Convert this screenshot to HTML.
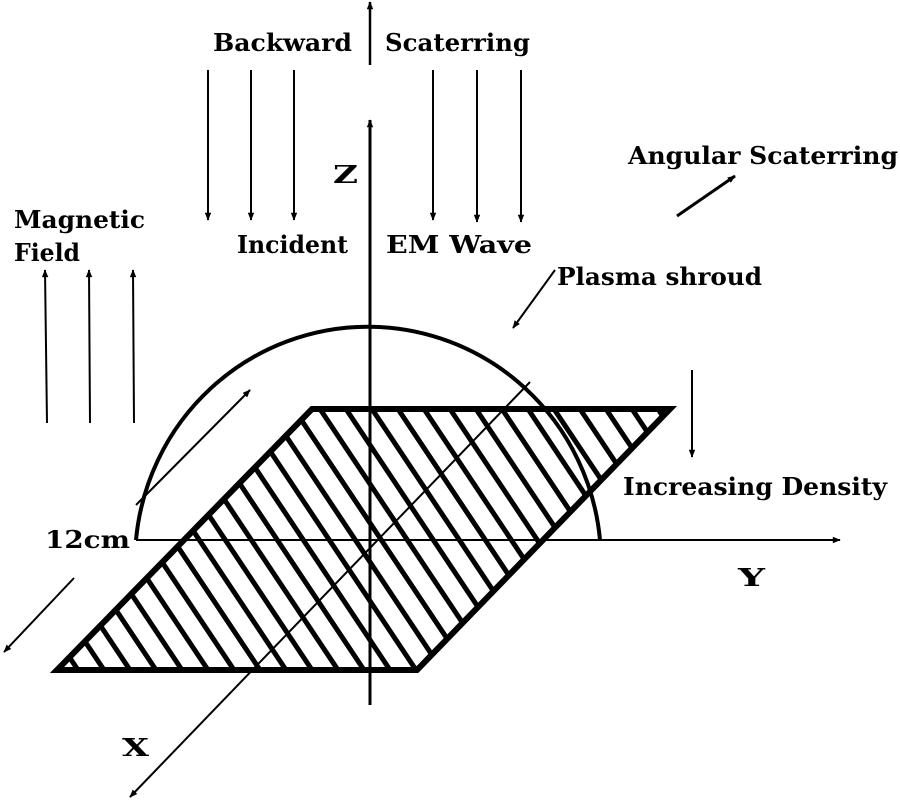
<!DOCTYPE html>
<html><head><meta charset="utf-8"><style>
html,body{margin:0;padding:0;background:#fff}
svg{display:block}
text{font-family:"DejaVu Serif","Liberation Serif",serif;font-size:24px;fill:#000;font-weight:bold}
</style></head><body>
<svg width="900" height="800" viewBox="0 0 900 800" xmlns="http://www.w3.org/2000/svg">
<defs>
<marker id="b" viewBox="0 0 10 10" refX="9" refY="5" markerWidth="16" markerHeight="8" orient="auto" markerUnits="userSpaceOnUse"><path d="M0,1 L10,5 L0,9 z"/></marker>
<clipPath id="pg"><polygon points="312,409 670,409 417,670 57,670"/></clipPath>
</defs>
<g stroke="#000" fill="none">
<g clip-path="url(#pg)" stroke-width="5">
<path d="M-200,409 l174,261 M-174,409 l174,261 M-148,409 l174,261 M-122,409 l174,261 M-96,409 l174,261 M-70,409 l174,261 M-44,409 l174,261 M-18,409 l174,261 M8,409 l174,261 M34,409 l174,261 M60,409 l174,261 M86,409 l174,261 M112,409 l174,261 M138,409 l174,261 M164,409 l174,261 M190,409 l174,261 M216,409 l174,261 M242,409 l174,261 M268,409 l174,261 M294,409 l174,261 M320,409 l174,261 M346,409 l174,261 M372,409 l174,261 M398,409 l174,261 M424,409 l174,261 M450,409 l174,261 M476,409 l174,261 M502,409 l174,261 M528,409 l174,261 M554,409 l174,261 M580,409 l174,261 M606,409 l174,261 M632,409 l174,261 M658,409 l174,261"/>
</g>
<polygon points="312,409 670,409 417,670 57,670" stroke-width="6"/>
<path d="M136,540 A233,235 0 0 1 600,540" stroke-width="4"/>
<line x1="370" y1="705" x2="370" y2="120" stroke-width="3" marker-end="url(#b)"/>
<line x1="136" y1="540" x2="840" y2="540" stroke-width="2" marker-end="url(#b)"/>
<line x1="530" y1="382" x2="130" y2="797" stroke-width="2" marker-end="url(#b)"/>
<line x1="370" y1="65" x2="370" y2="2" stroke-width="2.5" marker-end="url(#b)"/>
<g stroke-width="2">
<line x1="208" y1="70" x2="208" y2="220" marker-end="url(#b)"/>
<line x1="251" y1="70" x2="251" y2="220" marker-end="url(#b)"/>
<line x1="294" y1="70" x2="294" y2="220" marker-end="url(#b)"/>
<line x1="433" y1="70" x2="433" y2="220" marker-end="url(#b)"/>
<line x1="477" y1="70" x2="477" y2="222" marker-end="url(#b)"/>
<line x1="521" y1="70" x2="521" y2="222" marker-end="url(#b)"/>
<line x1="47" y1="423" x2="45" y2="270" marker-end="url(#b)"/>
<line x1="90" y1="423" x2="89" y2="270" marker-end="url(#b)"/>
<line x1="134" y1="423" x2="133" y2="270" marker-end="url(#b)"/>
<line x1="692" y1="370" x2="692" y2="457" marker-end="url(#b)"/>
<line x1="74" y1="578" x2="4" y2="652" marker-end="url(#b)"/>
<line x1="136" y1="505" x2="250" y2="390" marker-end="url(#b)"/>
<line x1="555" y1="270" x2="513" y2="328" marker-end="url(#b)"/>
<line x1="677" y1="216" x2="735" y2="176" stroke-width="3" marker-end="url(#b)"/>
</g>
</g>
<text x="213" y="51" textLength="139" lengthAdjust="spacingAndGlyphs">Backward</text>
<text x="385" y="51" textLength="145" lengthAdjust="spacingAndGlyphs">Scaterring</text>
<text x="237" y="253" textLength="111" lengthAdjust="spacingAndGlyphs">Incident</text>
<text x="386" y="253" textLength="146" lengthAdjust="spacingAndGlyphs">EM Wave</text>
<text x="14" y="228" textLength="131" lengthAdjust="spacingAndGlyphs">Magnetic</text>
<text x="14" y="261" textLength="66" lengthAdjust="spacingAndGlyphs">Field</text>
<text x="628" y="164" textLength="270" lengthAdjust="spacingAndGlyphs">Angular Scaterring</text>
<text x="557" y="285" textLength="205" lengthAdjust="spacingAndGlyphs">Plasma shroud</text>
<text x="623" y="495" textLength="264" lengthAdjust="spacingAndGlyphs">Increasing Density</text>
<text x="45" y="548" textLength="85" lengthAdjust="spacingAndGlyphs">12cm</text>
<text x="333" y="183" font-size="30" textLength="25" lengthAdjust="spacingAndGlyphs">Z</text>
<text x="738" y="586" font-size="30" textLength="27" lengthAdjust="spacingAndGlyphs">Y</text>
<text x="122" y="756" font-size="30" textLength="27" lengthAdjust="spacingAndGlyphs">X</text>
</svg>
</body></html>
